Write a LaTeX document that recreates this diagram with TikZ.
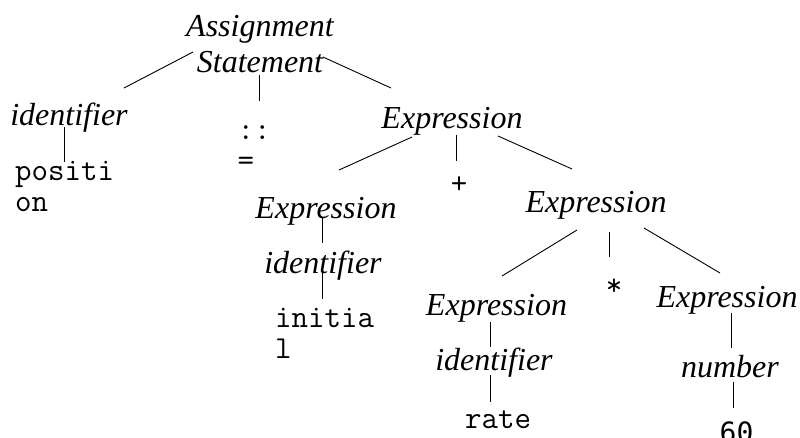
\documentclass[tikz,border=0pt]{standalone}
\usepackage{fontspec}
\setmainfont{Liberation Serif}
\newfontfamily\dvsm{DejaVu Sans Mono}
\usetikzlibrary{calc}
\begin{document}
\begin{tikzpicture}[x=1pt,y=-1pt,
  nt/.style={font=\fontsize{32}{36}\selectfont\itshape, inner sep=0pt, anchor=base, align=center},
  tm/.style={font=\ttfamily\fontsize{32}{31}\selectfont, inner sep=0pt, anchor=base west, align=left},
  edge/.style={draw=black, line width=0.9pt}]
\useasboundingbox (0,0) rectangle (800,437);
% nodes (base of multi-line nodes = baseline of last line)
\node[nt] (root) at (260,72) {Assignment\\Statement};
\node[nt] (id1) at (69,125) {identifier};
\node[tm] (pos) at (15,211.7) {positi\\on};
\node[tm] (asg) at (237.5,170) {::\\=};
\node[nt] (e1) at (452,128) {Expression};
\node[tm, anchor=center] (plus) at (459,185) {+};
\node[nt] (e2) at (326,218) {Expression};
\node[nt] (id2) at (323,273) {identifier};
\node[tm] (init) at (275,358) {initia\\l};
\node[nt] (e3) at (596,212) {Expression};
\node[tm, anchor=center] (star) at (614,287) {*};
\node[nt] (e4) at (496.5,315) {Expression};
\node[nt] (id3) at (494,370) {identifier};
\node[tm] (rate) at (465,428) {rate};
\node[nt] (e5) at (727,307) {Expression};
\node[nt] (num) at (730,377) {number};
\node[font=\dvsm\fontsize{28}{31}\selectfont, inner sep=0pt, anchor=north] (sixty) at (736.5,421.5) {60};
% connectors
\draw[edge] ($(root.base)+(-67,-20)$) -- ($(id1.base)+(55,-37)$);
\draw[edge] ($(root.base)+(-1,3)$) -- ($(asg.base west)+(21.5,-69)$);
\draw[edge] ($(root.base)+(63,-15)$) -- ($(e1.base)+(-61,-40)$);
\draw[edge] ($(id1.base)+(-5,2)$) -- ($(pos.base west)+(49,-50)$);
\draw[edge] ($(e1.base)+(-40,9)$) -- ($(e2.base)+(13,-48)$);
\draw[edge] ($(e1.base)+(4,7)$) -- ($(plus.center)+(-3,-24)$);
\draw[edge] ($(e1.base)+(46,8)$) -- ($(e3.base)+(-24,-43)$);
\draw[edge] ($(e2.base)+(-4,-1)$) -- ($(id2.base)+(-1,-30)$);
\draw[edge] ($(id2.base)+(-1,0)$) -- ($(init.base west)+(47,-59)$);
\draw[edge] ($(e3.base)+(-19,18)$) -- ($(e4.base)+(5.5,-39)$);
\draw[edge] ($(e3.base)+(13,20)$) -- ($(star.center)+(-5,-30)$);
\draw[edge] ($(e3.base)+(48,16)$) -- ($(e5.base)+(-7,-34)$);
\draw[edge] ($(e4.base)+(-6.5,7)$) -- ($(id3.base)+(-4,-23)$);
\draw[edge] ($(id3.base)+(-4,5)$) -- ($(rate.base west)+(25,-26)$);
\draw[edge] ($(e5.base)+(4,6)$) -- ($(num.base)+(1,-29)$);
\draw[edge] ($(num.base)+(3,5)$) -- ($(sixty.north)+(-3.5,-13.5)$);
\end{tikzpicture}
\end{document}
